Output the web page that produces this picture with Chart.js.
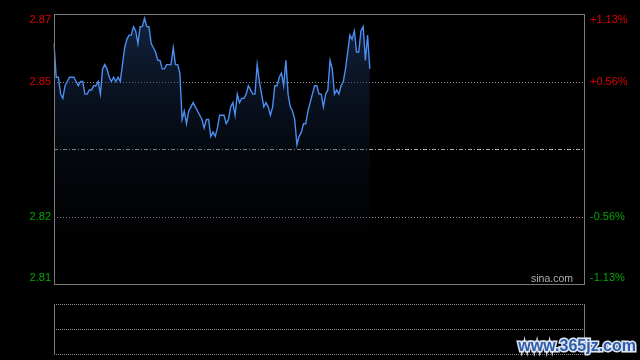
<!DOCTYPE html>
<html lang="zh-CN">
<head>
<meta charset="UTF-8" />
<title>分时走势</title>
<script src="https://cdn.jsdelivr.net/npm/chart.js@4.4.1/dist/chart.umd.min.js"></script>
<style>
  html, body { margin: 0; padding: 0; background: #000; }
  #wrap { position: relative; width: 640px; height: 360px; overflow: hidden; }
  #main { position: absolute; left: 0; top: 0; }
  #vol { position: absolute; left: 0; top: 300px; }
</style>
</head>
<body>
<div id="wrap">
  <canvas id="main" width="640" height="300"></canvas>
  <canvas id="vol" width="640" height="60"></canvas>
</div>
<script>
// previous close and axis ticks
const prevClose = 2.838;
const priceTicks = [2.870, 2.854, 2.838, 2.822, 2.806];
const priceLabels = ["2.87", "2.85", "", "2.82", "2.81"];
const pctLabels = ["+1.13%", "+0.56%", "", "-0.56%", "-1.13%"];

// minute prices from 09:30
const prices = [
  2.863, 2.855, 2.855, 2.851, 2.850, 2.853, 2.854, 2.855, 2.855, 2.855,
  2.854, 2.853, 2.854, 2.854, 2.851, 2.851, 2.852, 2.852, 2.853, 2.853,
  2.854, 2.851, 2.857, 2.858, 2.857, 2.855, 2.854, 2.855, 2.854, 2.855,
  2.854, 2.858, 2.862, 2.864, 2.865, 2.865, 2.867, 2.866, 2.863, 2.867,
  2.867, 2.869, 2.867, 2.867, 2.863, 2.862, 2.861, 2.859, 2.859, 2.857,
  2.857, 2.858, 2.858, 2.858, 2.862, 2.858, 2.858, 2.856, 2.845, 2.847,
  2.844, 2.847, 2.848, 2.849, 2.848, 2.847, 2.846, 2.845, 2.843, 2.845,
  2.845, 2.841, 2.842, 2.841, 2.843, 2.846, 2.846, 2.846, 2.844, 2.845,
  2.848, 2.849, 2.846, 2.851, 2.849, 2.850, 2.850, 2.851, 2.853, 2.852,
  2.851, 2.851, 2.858, 2.854, 2.851, 2.848, 2.849, 2.848, 2.846, 2.848,
  2.853, 2.853, 2.855, 2.856, 2.853, 2.859, 2.851, 2.848, 2.847, 2.845,
  2.839, 2.841, 2.842, 2.844, 2.844, 2.847, 2.849, 2.851, 2.853, 2.853,
  2.851, 2.851, 2.848, 2.851, 2.852, 2.859, 2.857, 2.851, 2.852, 2.851,
  2.853, 2.854, 2.857, 2.861, 2.865, 2.864, 2.866, 2.861, 2.861, 2.866,
  2.867, 2.859, 2.865, 2.857
];

// trading minutes 09:30-11:30, 13:01-15:00
const times = [];
function hm(m) {
  const h = Math.floor(m / 60), mm = m % 60;
  return (h < 10 ? "0" : "") + h + ":" + (mm < 10 ? "0" : "") + mm;
}
for (let m = 570; m <= 690; m++) times.push(hm(m));
for (let m = 781; m <= 900; m++) times.push(hm(m));

const font = "Liberation Sans, Arial, sans-serif";

function hline(ctx, area, y, dash, color) {
  ctx.save();
  ctx.strokeStyle = color;
  ctx.lineWidth = 1;
  ctx.setLineDash(dash);
  ctx.beginPath();
  ctx.moveTo(area.left, Math.round(y) + 0.5);
  ctx.lineTo(area.right, Math.round(y) + 0.5);
  ctx.stroke();
  ctx.restore();
}

const mainFrame = {
  id: "mainFrame",
  beforeDatasetsDraw(chart) {
    const { ctx, chartArea: a, scales: { y } } = chart;
    hline(ctx, a, y.getPixelForValue(priceTicks[1]), [1, 2], "#8a8a8a");
    hline(ctx, a, y.getPixelForValue(priceTicks[3]), [1, 2], "#8a8a8a");
    hline(ctx, a, y.getPixelForValue(priceTicks[2]), [4, 2, 1, 2], "#a8a8a8");
  },
  afterDraw(chart) {
    const { ctx, chartArea: a, scales: { y } } = chart;
    ctx.save();
    ctx.strokeStyle = "#7a7a7a";
    ctx.lineWidth = 1;
    ctx.strokeRect(a.left + 0.5, a.top + 0.5, a.right - a.left, a.bottom - a.top);
    ctx.font = "11px " + font;
    ctx.textBaseline = "middle";
    priceTicks.forEach((v, i) => {
      if (!priceLabels[i]) return;
      let py = y.getPixelForValue(v);
      if (i === 0) py += 6;
      if (i === priceTicks.length - 1) py -= 6;
      ctx.fillStyle = v > prevClose ? "#dd0000" : "#00a800";
      ctx.textAlign = "right";
      ctx.fillText(priceLabels[i], a.left - 3, py);
      ctx.textAlign = "left";
      ctx.fillText(pctLabels[i], a.right + 6, py);
    });
    ctx.fillStyle = "#b0b0b0";
    ctx.font = "10.5px " + font;
    ctx.textAlign = "right";
    ctx.textBaseline = "alphabetic";
    ctx.fillText("sina.com", a.right - 11, a.bottom - 2);
    ctx.restore();
  }
};

new Chart(document.getElementById("main"), {
  type: "line",
  data: {
    labels: times,
    datasets: [{
      data: prices,
      borderColor: "#4b8df0",
      borderWidth: 1.4,
      pointRadius: 0,
      tension: 0,
      fill: "start",
      backgroundColor: (c) => {
        const area = c.chart.chartArea;
        if (!area) return "rgba(0,0,0,0)";
        const g = c.chart.ctx.createLinearGradient(0, area.top, 0, area.bottom);
        g.addColorStop(0, "rgba(32,60,108,0.6)");
        g.addColorStop(1, "rgba(0,0,0,0)");
        return g;
      }
    }]
  },
  options: {
    responsive: false,
    animation: false,
    layout: { padding: { left: 54, right: 56, top: 14, bottom: 16 } },
    plugins: { legend: { display: false }, tooltip: { enabled: false } },
    scales: {
      x: { display: false },
      y: { display: false, min: 2.806, max: 2.870 }
    }
  },
  plugins: [mainFrame]
});

// empty volume panel
const volTicks = [0, 1, 2];
const volFrame = {
  id: "volFrame",
  afterDraw(chart) {
    const { ctx, chartArea: a, scales: { y } } = chart;
    volTicks.forEach(v => hline(ctx, a, y.getPixelForValue(v), [1, 1], "#8a8a8a"));
    ctx.save();
    ctx.strokeStyle = "#7a7a7a";
    ctx.beginPath();
    ctx.moveTo(a.left + 0.5, a.top);
    ctx.lineTo(a.left + 0.5, a.bottom);
    ctx.moveTo(a.right + 0.5, a.top);
    ctx.lineTo(a.right + 0.5, a.bottom);
    ctx.stroke();
    ctx.font = "bold 16px " + font;
    ctx.textAlign = "right";
    ctx.textBaseline = "alphabetic";
    ctx.lineWidth = 3;
    ctx.strokeStyle = "#dfe6f2";
    ctx.strokeText("www.365jz.com", 636, 51);
    ctx.fillStyle = "#2d5cab";
    ctx.fillText("www.365jz.com", 636, 51);
    ctx.restore();
  }
};

new Chart(document.getElementById("vol"), {
  type: "bar",
  data: { labels: times, datasets: [{ data: [] }] },
  options: {
    responsive: false,
    animation: false,
    layout: { padding: { left: 54, right: 56, top: 4, bottom: 6 } },
    plugins: { legend: { display: false }, tooltip: { enabled: false } },
    scales: {
      x: { display: false },
      y: { display: false, min: 0, max: 2 }
    }
  },
  plugins: [volFrame]
});
</script>
</body>
</html>
